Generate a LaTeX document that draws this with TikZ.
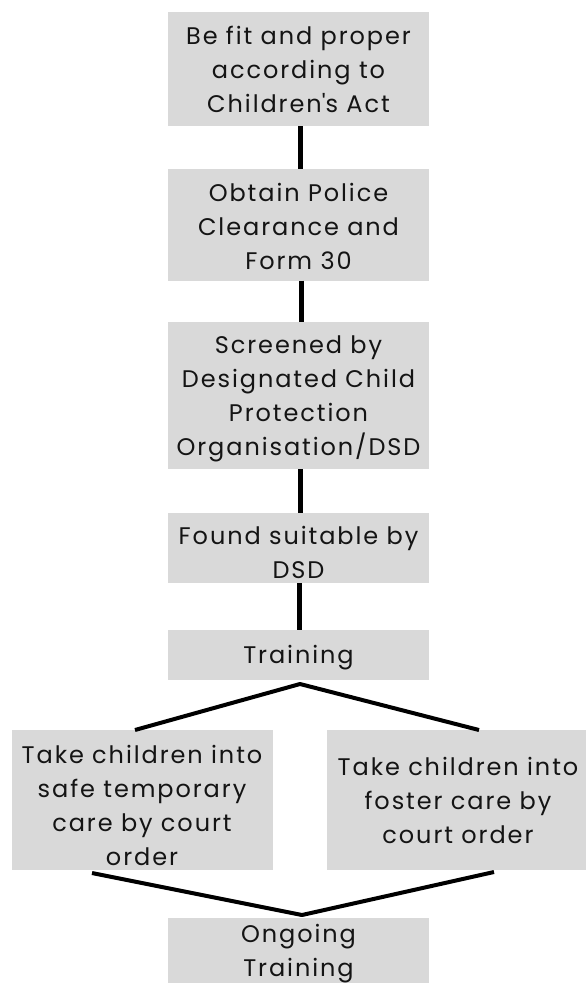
\documentclass[tikz,border=0pt]{standalone}
\usepackage{fontspec}
\setmainfont{Poppins}[LetterSpace=8]
\usetikzlibrary{calc}
\definecolor{boxgray}{HTML}{D9D9D9}
\definecolor{ink}{HTML}{141414}
\newcommand{\TopS}{\rule{0pt}{25pt}}
\newcommand{\BotS}{\rule[-8pt]{0pt}{8pt}}
\begin{document}
\begin{tikzpicture}[x=1pt,y=-1pt,
  box/.style={fill=boxgray, draw=none, inner sep=0pt, outer sep=0pt},
  lbl/.style={align=center, text=ink, inner sep=0pt, font=\fontsize{24}{34}\selectfont},
  vlink/.style={draw=black, line width=5pt},
  diag/.style={draw=black, line width=4pt, line join=round}]
\useasboundingbox (0,0) rectangle (586,983);
% boxes
\node[box, minimum width=261pt, minimum height=114pt] (b1) at (298.5,69) {};
\node[box, minimum width=261pt, minimum height=112pt] (b2) at (298.5,224.5) {};
\node[box, minimum width=261pt, minimum height=147pt] (b3) at (298.5,395.5) {};
\node[box, minimum width=261pt, minimum height=70pt] (b4) at (298.5,548) {};
\node[box, minimum width=261pt, minimum height=50pt] (b5) at (298.5,655) {};
\node[box, minimum width=261pt, minimum height=140pt] (bl) at (142.5,800) {};
\node[box, minimum width=262pt, minimum height=140pt] (br) at (458,800) {};
\node[box, minimum width=261pt, minimum height=82pt] (bo) at (298.5,959) {};
% texts
\node[lbl] (t1) at (298.5,70) {\TopS Be fit and proper\\according to\\Children\textquotesingle s Act\BotS};
\node[lbl] (t2) at (298.5,226.5) {\TopS Obtain Police\\Clearance and\\Form 30\BotS};
\node[lbl] (t3) at (298.5,396) {\TopS Screened by\\Designated Child\\Protection\\Organisation/DSD\BotS};
\node[lbl] (t4) at (298.5,553) {\TopS Found suitable by\\DSD\BotS};
\node[lbl] (t5) at (298.5,655) {\TopS Training\BotS};
\node[lbl] (tl) at (142,805.5) {\TopS Take children into\\safe temporary\\care by court\\order\BotS};
\node[lbl] (tr) at (458,800.5) {\TopS Take children into\\foster care by\\court order\BotS};
\node[lbl] (to) at (298.5,950.5) {\TopS Ongoing\\Training\BotS};
% vertical connectors
\draw[vlink] ([xshift=2pt]b1.south) -- ([xshift=2pt]b2.north);
\draw[vlink] ([xshift=2.5pt]b2.south) -- ([xshift=2.5pt]b3.north);
\draw[vlink] ([xshift=1.5pt]b3.south) -- ([xshift=1.5pt]b4.north);
\draw[vlink] ([xshift=0.5pt]b4.south) -- ([xshift=0.5pt]b5.north);
% branch
\coordinate (apx) at ($(b5.south)+(1.5,4)$);
\draw[diag] ([xshift=-7.5pt]bl.north) -- (apx) -- ([xshift=21pt]br.north);
% merge
\coordinate (mrg) at ($(bo.north)+(3.5,-3)$);
\draw[diag] ($(bl.south)+(-50.5,3)$) -- (mrg) -- ($(br.south)+(36,2)$);
\end{tikzpicture}
\end{document}
